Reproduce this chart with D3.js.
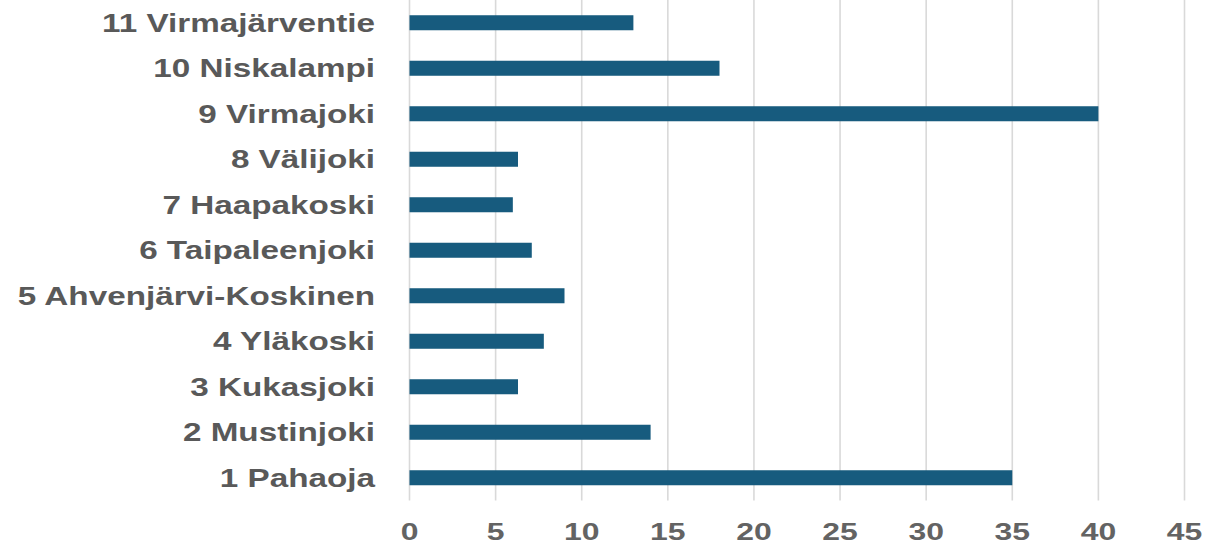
<!DOCTYPE html>
<html>
<head>
<meta charset="utf-8">
<script src="https://cdn.jsdelivr.net/npm/d3@7"></script>
<style>
  html, body { margin: 0; padding: 0; background: #ffffff; }
  svg { display: block; }
</style>
</head>
<body>
<svg id="chart" width="1208" height="550"></svg>
<script>
// Sites, listed bottom to top
const categories = [
  "1 Pahaoja",
  "2 Mustinjoki",
  "3 Kukasjoki",
  "4 Yläkoski",
  "5 Ahvenjärvi-Koskinen",
  "6 Taipaleenjoki",
  "7 Haapakoski",
  "8 Välijoki",
  "9 Virmajoki",
  "10 Niskalampi",
  "11 Virmajärventie"
];
const values = [35, 14, 6.3, 7.8, 9, 7.1, 6, 6.3, 40, 18, 13];
const tickValues = [0, 5, 10, 15, 20, 25, 30, 35, 40, 45];

const svg = d3.select("#chart");
const plotLeft = 409.5, plotRight = 1184.5, plotTop = 0, plotBottom = 500.5;
const hScale = 1.33; // horizontal stretch of the text glyphs

const x = d3.scaleLinear().domain([0, 45]).range([plotLeft, plotRight]);
const y = d3.scaleBand()
  .domain(categories.slice().reverse())
  .range([plotTop, plotBottom])
  .paddingInner(0.67)
  .paddingOuter(0.335);

// Vertical gridlines
svg.append("g")
  .selectAll("line")
  .data(tickValues)
  .join("line")
  .attr("x1", d => x(d)).attr("x2", d => x(d))
  .attr("y1", plotTop).attr("y2", plotBottom)
  .attr("stroke", "#d9d9d9")
  .attr("stroke-width", 1.6);

// Bars
svg.append("g")
  .selectAll("rect")
  .data(categories.map((c, i) => ({ c, v: values[i] })))
  .join("rect")
  .attr("x", x(0))
  .attr("y", d => y(d.c))
  .attr("width", d => x(d.v) - x(0))
  .attr("height", y.bandwidth())
  .attr("fill", "#175b7e");

// Category labels
svg.append("g")
  .selectAll("text")
  .data(categories)
  .join("text")
  .attr("transform", d => `translate(375,${y(d) + y.bandwidth() / 2}) scale(${hScale},1)`)
  .attr("text-anchor", "end")
  .attr("dominant-baseline", "central")
  .attr("font-family", "'Liberation Sans', Arial, sans-serif")
  .attr("font-weight", "bold")
  .attr("font-size", 25)
  .attr("fill", "#595959")
  .text(d => d);

// X axis tick labels
svg.append("g")
  .selectAll("text")
  .data(tickValues)
  .join("text")
  .attr("transform", d => `translate(${x(d)},532) scale(${hScale},1)`)
  .attr("text-anchor", "middle")
  .attr("dominant-baseline", "central")
  .attr("font-family", "'Liberation Sans', Arial, sans-serif")
  .attr("font-weight", "bold")
  .attr("font-size", 24)
  .attr("fill", "#636363")
  .text(d => d);
</script>
</body>
</html>
